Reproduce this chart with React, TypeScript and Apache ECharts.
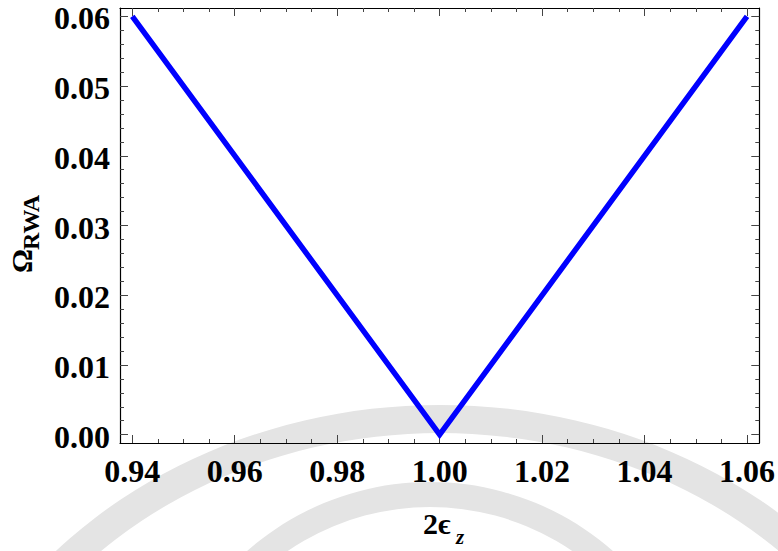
import React, { useEffect, useRef } from "react";
import * as echarts from "echarts";

// Data
const xValues = [0.94, 1.0, 1.06];
const omegaValues = [0.06, 0.0, 0.06];

// Ticks
const xMajorTicks = [0.94, 0.96, 0.98, 1.0, 1.02, 1.04, 1.06];
const yMajorTicks = [0.0, 0.01, 0.02, 0.03, 0.04, 0.05, 0.06];

const X_MIN = 0.9376;
const X_MAX = 1.0624;
const Y_MIN = -0.0012;
const Y_MAX = 0.0612;

function minorTicks(majors: number[], parts: number): number[] {
  const out: number[] = [];
  for (let i = 0; i < majors.length - 1; i++) {
    const step = (majors[i + 1] - majors[i]) / parts;
    for (let k = 1; k < parts; k++) {
      out.push(Math.round((majors[i] + step * k) * 1e6) / 1e6);
    }
  }
  return out;
}

const FONT = "'Liberation Serif', 'Times New Roman', serif";

export default function App() {
  const ref = useRef<HTMLDivElement>(null);

  useEffect(() => {
    if (!ref.current) return;
    const chart = echarts.init(ref.current, null, { renderer: "svg" });
    const xMinor = minorTicks(xMajorTicks, 4);
    const yMinor = minorTicks(yMajorTicks, 5);
    const lineColor = "#000";
    const tickColor = "#444";

    const baseX = (position: string, ticks: number[], len: number, showLine: boolean, showLabel: boolean) => ({
      type: "value",
      position,
      min: X_MIN,
      max: X_MAX,
      axisLine: { show: showLine, onZero: false, lineStyle: { color: lineColor, width: 1.2 } },
      axisTick: { show: true, inside: true, length: len, customValues: ticks, lineStyle: { color: tickColor, width: 1 } },
      axisLabel: {
        show: showLabel,
        customValues: ticks,
        formatter: (v: number) => v.toFixed(2),
        fontFamily: FONT,
        fontWeight: "bold",
        fontSize: 32,
        color: "#000",
        margin: 12,
      },
      splitLine: { show: false },
    });
    const baseY = (position: string, ticks: number[], len: number, showLine: boolean, showLabel: boolean) => ({
      type: "value",
      position,
      min: Y_MIN,
      max: Y_MAX,
      axisLine: { show: showLine, onZero: false, lineStyle: { color: lineColor, width: 1.2 } },
      axisTick: { show: true, inside: true, length: len, customValues: ticks, lineStyle: { color: tickColor, width: 1 } },
      axisLabel: {
        show: showLabel,
        customValues: ticks,
        formatter: (v: number) => v.toFixed(2),
        fontFamily: FONT,
        fontWeight: "bold",
        fontSize: 32,
        lineHeight: 4,
        verticalAlign: "top",
        color: "#000",
        margin: 10,
      },
      splitLine: { show: false },
    });

    chart.setOption({
      animation: false,
      backgroundColor: "#fff",
      grid: { left: 120, top: 8, right: 18, bottom: 108, containLabel: false },
      xAxis: [
        baseX("bottom", xMajorTicks, 8, true, true),
        baseX("bottom", xMinor, 4, false, false),
        baseX("top", xMajorTicks, 8, true, false),
        baseX("top", xMinor, 4, false, false),
      ],
      yAxis: [
        baseY("left", yMajorTicks, 8, true, true),
        baseY("left", yMinor, 4, false, false),
        baseY("right", yMajorTicks, 8, true, false),
        baseY("right", yMinor, 4, false, false),
      ],
      graphic: [
        {
          type: "ring",
          z: -100,
          silent: true,
          x: 440,
          y: 860,
          scaleX: 1.15,
          shape: { cx: 0, cy: 0, r: 455, r0: 427 },
          style: { fill: "#e4e4e4" },
        },
        {
          type: "ring",
          z: -100,
          silent: true,
          x: 430,
          y: 759,
          shape: { cx: 0, cy: 0, r: 277, r0: 252 },
          style: { fill: "#e4e4e4" },
        },
        {
          type: "text",
          z: 100,
          x: 423,
          y: 538,
          style: {
            text: "2\u03f5",
            fontFamily: FONT,
            fontWeight: "bold",
            fontSize: 30,
            fill: "#000",
            textAlign: "left",
            textVerticalAlign: "bottom",
          },
        },
        {
          type: "text",
          z: 100,
          x: 456,
          y: 547,
          style: {
            text: "z",
            fontFamily: FONT,
            fontWeight: "bold",
            fontStyle: "italic",
            fontSize: 21,
            fill: "#000",
            textAlign: "left",
            textVerticalAlign: "bottom",
          },
        },
        {
          type: "text",
          z: 100,
          x: 21,
          y: 273,
          rotation: Math.PI / 2,
          style: {
            text: "\u03a9",
            fontFamily: FONT,
            fontWeight: "bold",
            fontSize: 30,
            fill: "#000",
            textAlign: "left",
            textVerticalAlign: "middle",
          },
        },
        {
          type: "text",
          z: 100,
          x: 31,
          y: 250,
          rotation: Math.PI / 2,
          style: {
            text: "RWA",
            fontFamily: FONT,
            fontWeight: "bold",
            fontSize: 24,
            fill: "#000",
            textAlign: "left",
            textVerticalAlign: "middle",
          },
        },
      ],
      series: [
        {
          type: "line",
          xAxisIndex: 0,
          yAxisIndex: 0,
          data: xValues.map((x, i) => [x, omegaValues[i]]),
          showSymbol: false,
          symbol: "none",
          lineStyle: { color: "#0000ff", width: 5.5, cap: "butt", join: "miter" },
          z: 5,
        },
      ],
    });
    return () => chart.dispose();
  }, []);

  return <div ref={ref} style={{ width: 778, height: 551, position: "absolute", left: 0, top: 0 }} />;
}
